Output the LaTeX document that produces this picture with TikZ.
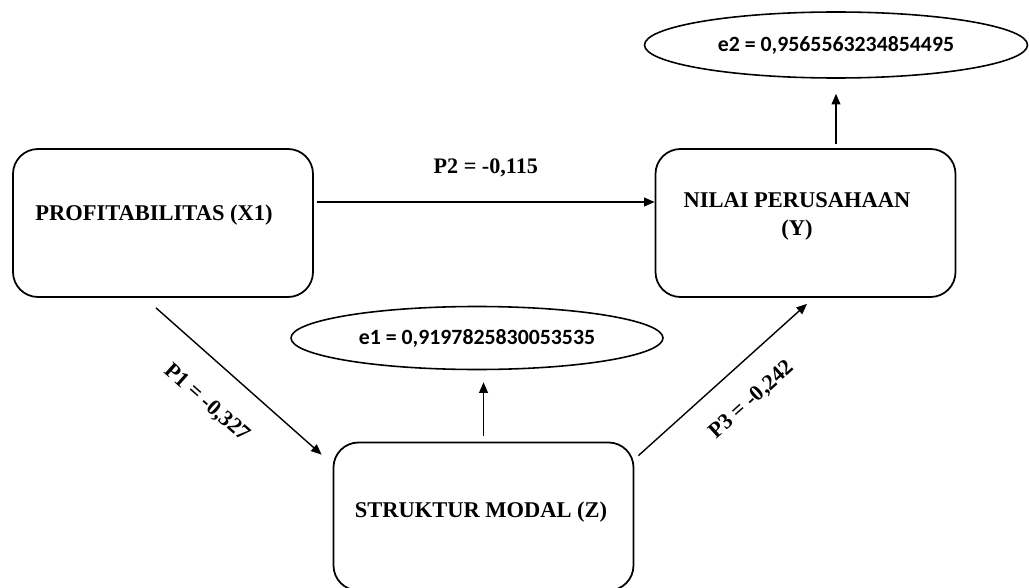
\documentclass[tikz,border=0pt]{standalone}
\usepackage{fontspec}
\setmainfont{Liberation Serif}
\newfontfamily\ellfont{Carlito}
\usepackage{tikz}
\usetikzlibrary{arrows.meta,shapes.geometric}
\tikzset{
    varbox/.style={draw, line width=1pt, rounded corners=0.5cm, minimum width=6cm, minimum height=2.96cm},
    vartext/.style={font=\bfseries\fontsize{12.8}{15.9}\selectfont, align=center, inner sep=0pt},
    errell/.style={draw, ellipse, line width=0.9pt, inner sep=0pt, font=\ellfont\bfseries\fontsize{12.4}{14}\selectfont},
    coef/.style={font=\bfseries\fontsize{12.6}{14}\selectfont, inner sep=0pt},
    arr/.style={line width=0.8pt, -{Triangle[length=6pt,width=5pt]}}
}

\begin{document}
\begin{tikzpicture}
                        \useasboundingbox (0,0) rectangle (20.58,11.74);
                        \node[varbox] (x1) at (3.26,7.28) {};
                        \node[varbox] (y) at (16.11,7.28) {};
                        \node[varbox] (z) at (9.67,1.41) {};
                        \node[vartext] (x1txt) at (3.08,7.44) {PROFITABILITAS (X1)};
                        \node[vartext] (ytxt) at (15.94,7.42) {NILAI PERUSAHAAN\\(Y)};
                        \node[vartext] (ztxt) at (9.62,1.50) {STRUKTUR MODAL (Z)};
                        \node[errell, minimum width=7.44cm, minimum height=1.26cm] (e1) at (9.54,4.98) {e1 = 0,9197825830053535};
                        \node[errell, minimum width=7.66cm, minimum height=1.32cm] (e2) at (16.72,10.84) {e2 = 0,9565563234854495};
                        \draw[arr] ([xshift=0.06cm,yshift=0.42cm]x1.east) -- node[coef, midway, yshift=0.68cm] (p2) {P2 = -0,115} ([yshift=0.42cm]y.west);
                        \draw[arr] ([xshift=-0.14cm,yshift=-0.2cm]x1.south) -- ([xshift=-0.22cm,yshift=-0.26cm]z.north west);
                        \draw[arr] ([xshift=0.08cm,yshift=-0.28cm]z.north east) -- ([xshift=0.03cm,yshift=-0.12cm]y.south);
                        \draw[arr] ([yshift=0.12cm]z.north) -- ([yshift=-0.24cm]z.north |- e1.south);
                        \draw[arr] ([yshift=0.08cm]e2.south |- y.north) -- ([yshift=-0.30cm]e2.south);
                        \node[coef, rotate=-41.7] (p1) at (4.14,3.68) {P1 = -0,327};
                        \node[coef, rotate=42] (p3) at (15.04,3.74) {P3 = -0,242};
                    \end{tikzpicture}
\end{document}
